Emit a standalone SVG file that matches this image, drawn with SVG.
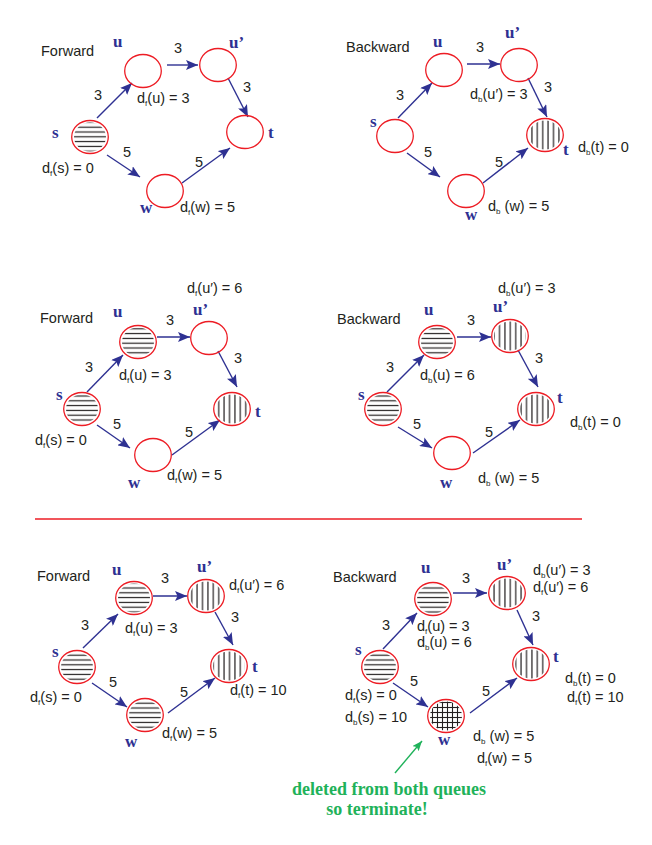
<svg xmlns="http://www.w3.org/2000/svg" width="652" height="845" viewBox="0 0 652 845">
<style>
.n{fill:none;stroke:#ed1c24;stroke-width:1.3}
.e{fill:none;stroke:#2e3192;stroke-width:1.4;marker-end:url(#ah)}
.lbl{font-family:"Liberation Serif","Times New Roman",serif;font-weight:bold;font-size:17px;fill:#2e3192}
.t{font-family:"Liberation Sans",Arial,sans-serif;font-size:14.5px;fill:#231f20}
.wt{font-family:"Liberation Sans",Arial,sans-serif;font-size:14.5px;fill:#231f20;text-anchor:middle}
.sb{font-size:8px}
.gr{font-family:"Liberation Serif","Times New Roman",serif;font-weight:bold;font-size:18px;fill:#1fb25a;text-anchor:middle}
</style>
<defs>
<pattern id="hh" patternUnits="userSpaceOnUse" width="10" height="4.8"><line x1="0" y1="2.4" x2="10" y2="2.4" stroke="#231f20" stroke-width="1.2"/></pattern>
<pattern id="vv" patternUnits="userSpaceOnUse" width="5.4" height="10"><line x1="2.7" y1="0" x2="2.7" y2="10" stroke="#231f20" stroke-width="1.2"/></pattern>
<pattern id="xx" patternUnits="userSpaceOnUse" width="5" height="5"><line x1="0" y1="2.5" x2="5" y2="2.5" stroke="#231f20" stroke-width="1.1"/><line x1="2.5" y1="0" x2="2.5" y2="5" stroke="#231f20" stroke-width="1.1"/></pattern>
<marker id="ah" markerUnits="userSpaceOnUse" viewBox="0 0 12 10" refX="12" refY="5" markerWidth="12" markerHeight="10" orient="auto"><path d="M0,0 L12,5 L0,10 L2.5,5 z" fill="#2e3192"/></marker>
<marker id="gh" markerUnits="userSpaceOnUse" viewBox="0 0 10 8" refX="10" refY="4" markerWidth="10" markerHeight="8" orient="auto"><path d="M0,0 L10,4 L0,8 L2,4 z" fill="#1fb25a"/></marker>
</defs>
<rect width="652" height="845" fill="#ffffff"/>

<!-- panel titles -->
<text class="t" x="41" y="56">Forward</text>
<text class="t" x="346" y="52">Backward</text>
<text class="t" x="40" y="323">Forward</text>
<text class="t" x="337" y="324">Backward</text>
<text class="t" x="37" y="581">Forward</text>
<text class="t" x="333" y="582">Backward</text>

<line x1="35" y1="519" x2="582" y2="519" stroke="#ed1c24" stroke-width="1.6"/>

<g id="connectors">
<!-- panel 1 -->
<line class="e" x1="97" y1="118" x2="132" y2="83"/>
<line class="e" x1="167" y1="65" x2="198" y2="65"/>
<line class="e" x1="228" y1="78" x2="248" y2="117"/>
<line class="e" x1="107" y1="155" x2="140" y2="177"/>
<line class="e" x1="182" y1="183" x2="230" y2="148"/>
<!-- panel 2 -->
<line class="e" x1="398" y1="118" x2="432" y2="83"/>
<line class="e" x1="467" y1="64" x2="500" y2="64"/>
<line class="e" x1="528" y1="78" x2="547" y2="117"/>
<line class="e" x1="407" y1="153" x2="440" y2="177"/>
<line class="e" x1="483" y1="183" x2="528" y2="148"/>
<!-- panel 3 -->
<line class="e" x1="87" y1="392" x2="123" y2="355"/>
<line class="e" x1="157" y1="337" x2="190" y2="337"/>
<line class="e" x1="218" y1="351" x2="237" y2="387"/>
<line class="e" x1="97" y1="425" x2="130" y2="448"/>
<line class="e" x1="172" y1="455" x2="220" y2="420"/>
<!-- panel 4 -->
<line class="e" x1="387" y1="392" x2="424" y2="355"/>
<line class="e" x1="457" y1="337" x2="491" y2="337"/>
<line class="e" x1="518" y1="350" x2="538" y2="387"/>
<line class="e" x1="398" y1="427" x2="432" y2="448"/>
<line class="e" x1="473" y1="453" x2="520" y2="420"/>
<!-- panel 5 -->
<line class="e" x1="83" y1="648" x2="118" y2="614"/>
<line class="e" x1="153" y1="596" x2="187" y2="596"/>
<line class="e" x1="215" y1="612" x2="233" y2="645"/>
<line class="e" x1="92" y1="683" x2="127" y2="707"/>
<line class="e" x1="168" y1="713" x2="215" y2="678"/>
<!-- panel 6 -->
<line class="e" x1="383" y1="649" x2="417" y2="613"/>
<line class="e" x1="453" y1="593" x2="487" y2="593"/>
<line class="e" x1="517" y1="610" x2="533" y2="645"/>
<line class="e" x1="393" y1="683" x2="428" y2="707"/>
<line class="e" x1="470" y1="713" x2="517" y2="678"/>
<!-- green pointer -->
<line x1="395" y1="773" x2="422" y2="741" stroke="#1fb25a" stroke-width="1.4" marker-end="url(#gh)"/>
</g>

<g id="weights">
<text class="wt" x="98" y="100">3</text><text class="wt" x="178" y="53">3</text><text class="wt" x="247" y="92">3</text><text class="wt" x="127" y="157">5</text><text class="wt" x="199" y="167">5</text>
<text class="wt" x="400" y="100">3</text><text class="wt" x="480" y="52">3</text><text class="wt" x="548" y="92">3</text><text class="wt" x="428" y="157">5</text><text class="wt" x="499" y="167">5</text>
<text class="wt" x="89" y="372">3</text><text class="wt" x="170" y="325">3</text><text class="wt" x="238" y="363">3</text><text class="wt" x="117" y="429">5</text><text class="wt" x="189" y="437">5</text>
<text class="wt" x="390" y="372">3</text><text class="wt" x="471" y="325">3</text><text class="wt" x="539" y="363">3</text><text class="wt" x="417" y="429">5</text><text class="wt" x="489" y="437">5</text>
<text class="wt" x="85" y="630">3</text><text class="wt" x="165" y="583">3</text><text class="wt" x="235" y="622">3</text><text class="wt" x="113" y="687">5</text><text class="wt" x="184" y="697">5</text>
<text class="wt" x="386" y="630">3</text><text class="wt" x="466" y="583">3</text><text class="wt" x="536" y="621">3</text><text class="wt" x="414" y="686">5</text><text class="wt" x="486" y="696">5</text>
</g>

<!-- ===== Panel 1 ===== -->
<g id="p1-s"><ellipse cx="90" cy="137" rx="16" ry="14.5" fill="url(#hh)"/><ellipse class="n" cx="90" cy="137" rx="18.3" ry="16.5"/><text class="lbl" x="52" y="138">s</text><text class="t" x="42" y="173">d<tspan class="sb" dy="2.5">f</tspan><tspan dy="-2.5">(s) = 0</tspan></text></g>
<g id="p1-u"><ellipse class="n" cx="143" cy="71" rx="18.3" ry="16.5"/><text class="lbl" x="113" y="47">u</text><text class="t" x="137" y="103">d<tspan class="sb" dy="2.5">f</tspan><tspan dy="-2.5">(u) = 3</tspan></text></g>
<g id="p1-u2"><ellipse class="n" cx="218" cy="65" rx="18.3" ry="16.5"/><text class="lbl" x="229" y="48">u’</text></g>
<g id="p1-t"><ellipse class="n" cx="245" cy="132" rx="18.3" ry="16.5"/><text class="lbl" x="268" y="138">t</text></g>
<g id="p1-w"><ellipse class="n" cx="165" cy="191" rx="18.3" ry="16.5"/><text class="lbl" x="140" y="213">w</text><text class="t" x="180" y="212">d<tspan class="sb" dy="2.5">f</tspan><tspan dy="-2.5">(w) = 5</tspan></text></g>

<!-- ===== Panel 2 ===== -->
<g id="p2-s"><ellipse class="n" cx="395" cy="136" rx="18.3" ry="16.5"/><text class="lbl" x="370" y="127">s</text></g>
<g id="p2-u"><ellipse class="n" cx="444" cy="70" rx="18.3" ry="16.5"/><text class="lbl" x="433" y="47">u</text></g>
<g id="p2-u2"><ellipse class="n" cx="519" cy="65" rx="18.3" ry="16.5"/><text class="lbl" x="505" y="38">u’</text><text class="t" x="470" y="99">d<tspan class="sb" dy="2.5">b</tspan><tspan dy="-2.5">(u′) = 3</tspan></text></g>
<g id="p2-t"><ellipse cx="545" cy="135" rx="16" ry="14.5" fill="url(#vv)"/><ellipse class="n" cx="545" cy="135" rx="18.3" ry="16.5"/><text class="lbl" x="563" y="155">t</text><text class="t" x="578" y="152">d<tspan class="sb" dy="2.5">b</tspan><tspan dy="-2.5">(t) = 0</tspan></text></g>
<g id="p2-w"><ellipse class="n" cx="466" cy="191" rx="18.3" ry="16.5"/><text class="lbl" x="465" y="220">w</text><text class="t" x="488" y="211">d<tspan class="sb" dy="2.5">b</tspan><tspan dy="-2.5"> (w) = 5</tspan></text></g>

<!-- ===== Panel 3 ===== -->
<g id="p3-s"><ellipse cx="82" cy="409" rx="16" ry="14.5" fill="url(#hh)"/><ellipse class="n" cx="82" cy="409" rx="18.3" ry="16.5"/><text class="lbl" x="56" y="400">s</text><text class="t" x="35" y="445">d<tspan class="sb" dy="2.5">f</tspan><tspan dy="-2.5">(s) = 0</tspan></text></g>
<g id="p3-u"><ellipse cx="138" cy="342" rx="16" ry="14.5" fill="url(#hh)"/><ellipse class="n" cx="138" cy="342" rx="18.3" ry="16.5"/><text class="lbl" x="113" y="317">u</text><text class="t" x="119" y="380">d<tspan class="sb" dy="2.5">f</tspan><tspan dy="-2.5">(u) = 3</tspan></text></g>
<g id="p3-u2"><ellipse class="n" cx="209" cy="338" rx="18.3" ry="16.5"/><text class="lbl" x="193" y="315">u’</text><text class="t" x="187" y="293">d<tspan class="sb" dy="2.5">f</tspan><tspan dy="-2.5">(u′) = 6</tspan></text></g>
<g id="p3-t"><ellipse cx="232" cy="409" rx="16" ry="14.5" fill="url(#vv)"/><ellipse class="n" cx="232" cy="409" rx="18.3" ry="16.5"/><text class="lbl" x="255" y="417">t</text></g>
<g id="p3-w"><ellipse class="n" cx="153" cy="455" rx="18.3" ry="16.5"/><text class="lbl" x="128" y="488">w</text><text class="t" x="167" y="480">d<tspan class="sb" dy="2.5">f</tspan><tspan dy="-2.5">(w) = 5</tspan></text></g>

<!-- ===== Panel 4 ===== -->
<g id="p4-s"><ellipse cx="383" cy="409" rx="16" ry="14.5" fill="url(#hh)"/><ellipse class="n" cx="383" cy="409" rx="18.3" ry="16.5"/><text class="lbl" x="358" y="400">s</text></g>
<g id="p4-u"><ellipse cx="437" cy="342" rx="16" ry="14.5" fill="url(#hh)"/><ellipse class="n" cx="437" cy="342" rx="18.3" ry="16.5"/><text class="lbl" x="424" y="315">u</text><text class="t" x="420" y="380">d<tspan class="sb" dy="2.5">b</tspan><tspan dy="-2.5">(u) = 6</tspan></text></g>
<g id="p4-u2"><ellipse cx="510" cy="336" rx="16" ry="14.5" fill="url(#vv)"/><ellipse class="n" cx="510" cy="336" rx="18.3" ry="16.5"/><text class="lbl" x="493" y="312">u’</text><text class="t" x="498" y="293">d<tspan class="sb" dy="2.5">b</tspan><tspan dy="-2.5">(u′) = 3</tspan></text></g>
<g id="p4-t"><ellipse cx="536" cy="409" rx="16" ry="14.5" fill="url(#vv)"/><ellipse class="n" cx="536" cy="409" rx="18.3" ry="16.5"/><text class="lbl" x="557" y="403">t</text><text class="t" x="570" y="427">d<tspan class="sb" dy="2.5">b</tspan><tspan dy="-2.5">(t) = 0</tspan></text></g>
<g id="p4-w"><ellipse class="n" cx="452" cy="453" rx="18.3" ry="16.5"/><text class="lbl" x="440" y="488">w</text><text class="t" x="478" y="483">d<tspan class="sb" dy="2.5">b</tspan><tspan dy="-2.5"> (w) = 5</tspan></text></g>

<!-- ===== Panel 5 ===== -->
<g id="p5-s"><ellipse cx="77" cy="667" rx="16" ry="14.5" fill="url(#hh)"/><ellipse class="n" cx="77" cy="667" rx="18.3" ry="16.5"/><text class="lbl" x="52" y="657">s</text><text class="t" x="30" y="702">d<tspan class="sb" dy="2.5">f</tspan><tspan dy="-2.5">(s) = 0</tspan></text></g>
<g id="p5-u"><ellipse cx="134" cy="598" rx="16" ry="14.5" fill="url(#hh)"/><ellipse class="n" cx="134" cy="598" rx="18.3" ry="16.5"/><text class="lbl" x="112" y="575">u</text><text class="t" x="125" y="633">d<tspan class="sb" dy="2.5">f</tspan><tspan dy="-2.5">(u) = 3</tspan></text></g>
<g id="p5-u2"><ellipse cx="206" cy="596" rx="16" ry="14.5" fill="url(#vv)"/><ellipse class="n" cx="206" cy="596" rx="18.3" ry="16.5"/><text class="lbl" x="197" y="572">u’</text><text class="t" x="229" y="590">d<tspan class="sb" dy="2.5">f</tspan><tspan dy="-2.5">(u′) = 6</tspan></text></g>
<g id="p5-t"><ellipse cx="229" cy="666" rx="16" ry="14.5" fill="url(#vv)"/><ellipse class="n" cx="229" cy="666" rx="18.3" ry="16.5"/><text class="lbl" x="252" y="672">t</text><text class="t" x="230" y="695">d<tspan class="sb" dy="2.5">f</tspan><tspan dy="-2.5">(t) = 10</tspan></text></g>
<g id="p5-w"><ellipse cx="145" cy="715" rx="16" ry="14.5" fill="url(#hh)"/><ellipse class="n" cx="145" cy="715" rx="18.3" ry="16.5"/><text class="lbl" x="125" y="747">w</text><text class="t" x="162" y="738">d<tspan class="sb" dy="2.5">f</tspan><tspan dy="-2.5">(w) = 5</tspan></text></g>

<!-- ===== Panel 6 ===== -->
<g id="p6-s"><ellipse cx="380" cy="667" rx="16" ry="14.5" fill="url(#hh)"/><ellipse class="n" cx="380" cy="667" rx="18.3" ry="16.5"/><text class="lbl" x="355" y="655">s</text><text class="t" x="345" y="700">d<tspan class="sb" dy="2.5">f</tspan><tspan dy="-2.5">(s) = 0</tspan></text><text class="t" x="345" y="722">d<tspan class="sb" dy="2.5">b</tspan><tspan dy="-2.5">(s) = 10</tspan></text></g>
<g id="p6-u"><ellipse cx="433" cy="599" rx="16" ry="14.5" fill="url(#hh)"/><ellipse class="n" cx="433" cy="599" rx="18.3" ry="16.5"/><text class="lbl" x="421" y="573">u</text><text class="t" x="417" y="631">d<tspan class="sb" dy="2.5">f</tspan><tspan dy="-2.5">(u) = 3</tspan></text><text class="t" x="417" y="647">d<tspan class="sb" dy="2.5">b</tspan><tspan dy="-2.5">(u) = 6</tspan></text></g>
<g id="p6-u2"><ellipse cx="507" cy="593" rx="16" ry="14.5" fill="url(#vv)"/><ellipse class="n" cx="507" cy="593" rx="18.3" ry="16.5"/><text class="lbl" x="497" y="570">u’</text><text class="t" x="533" y="575">d<tspan class="sb" dy="2.5">b</tspan><tspan dy="-2.5">(u′) = 3</tspan></text><text class="t" x="533" y="592">d<tspan class="sb" dy="2.5">f</tspan><tspan dy="-2.5">(u′) = 6</tspan></text></g>
<g id="p6-t"><ellipse cx="531" cy="664" rx="16" ry="14.5" fill="url(#vv)"/><ellipse class="n" cx="531" cy="664" rx="18.3" ry="16.5"/><text class="lbl" x="553" y="662">t</text><text class="t" x="565" y="683">d<tspan class="sb" dy="2.5">b</tspan><tspan dy="-2.5">(t) = 0</tspan></text><text class="t" x="567" y="702">d<tspan class="sb" dy="2.5">f</tspan><tspan dy="-2.5">(t) = 10</tspan></text></g>
<g id="p6-w"><ellipse cx="446" cy="716" rx="16" ry="14.5" fill="url(#xx)"/><ellipse class="n" cx="446" cy="716" rx="18.3" ry="16.5"/><text class="lbl" x="438" y="745">w</text><text class="t" x="473" y="741">d<tspan class="sb" dy="2.5">b</tspan><tspan dy="-2.5"> (w) = 5</tspan></text><text class="t" x="477" y="763">d<tspan class="sb" dy="2.5">f</tspan><tspan dy="-2.5">(w) = 5</tspan></text></g>

<g id="note">
<text class="gr" x="389" y="795">deleted from both queues</text>
<text class="gr" x="377" y="815">so terminate!</text>
</g>
</svg>
